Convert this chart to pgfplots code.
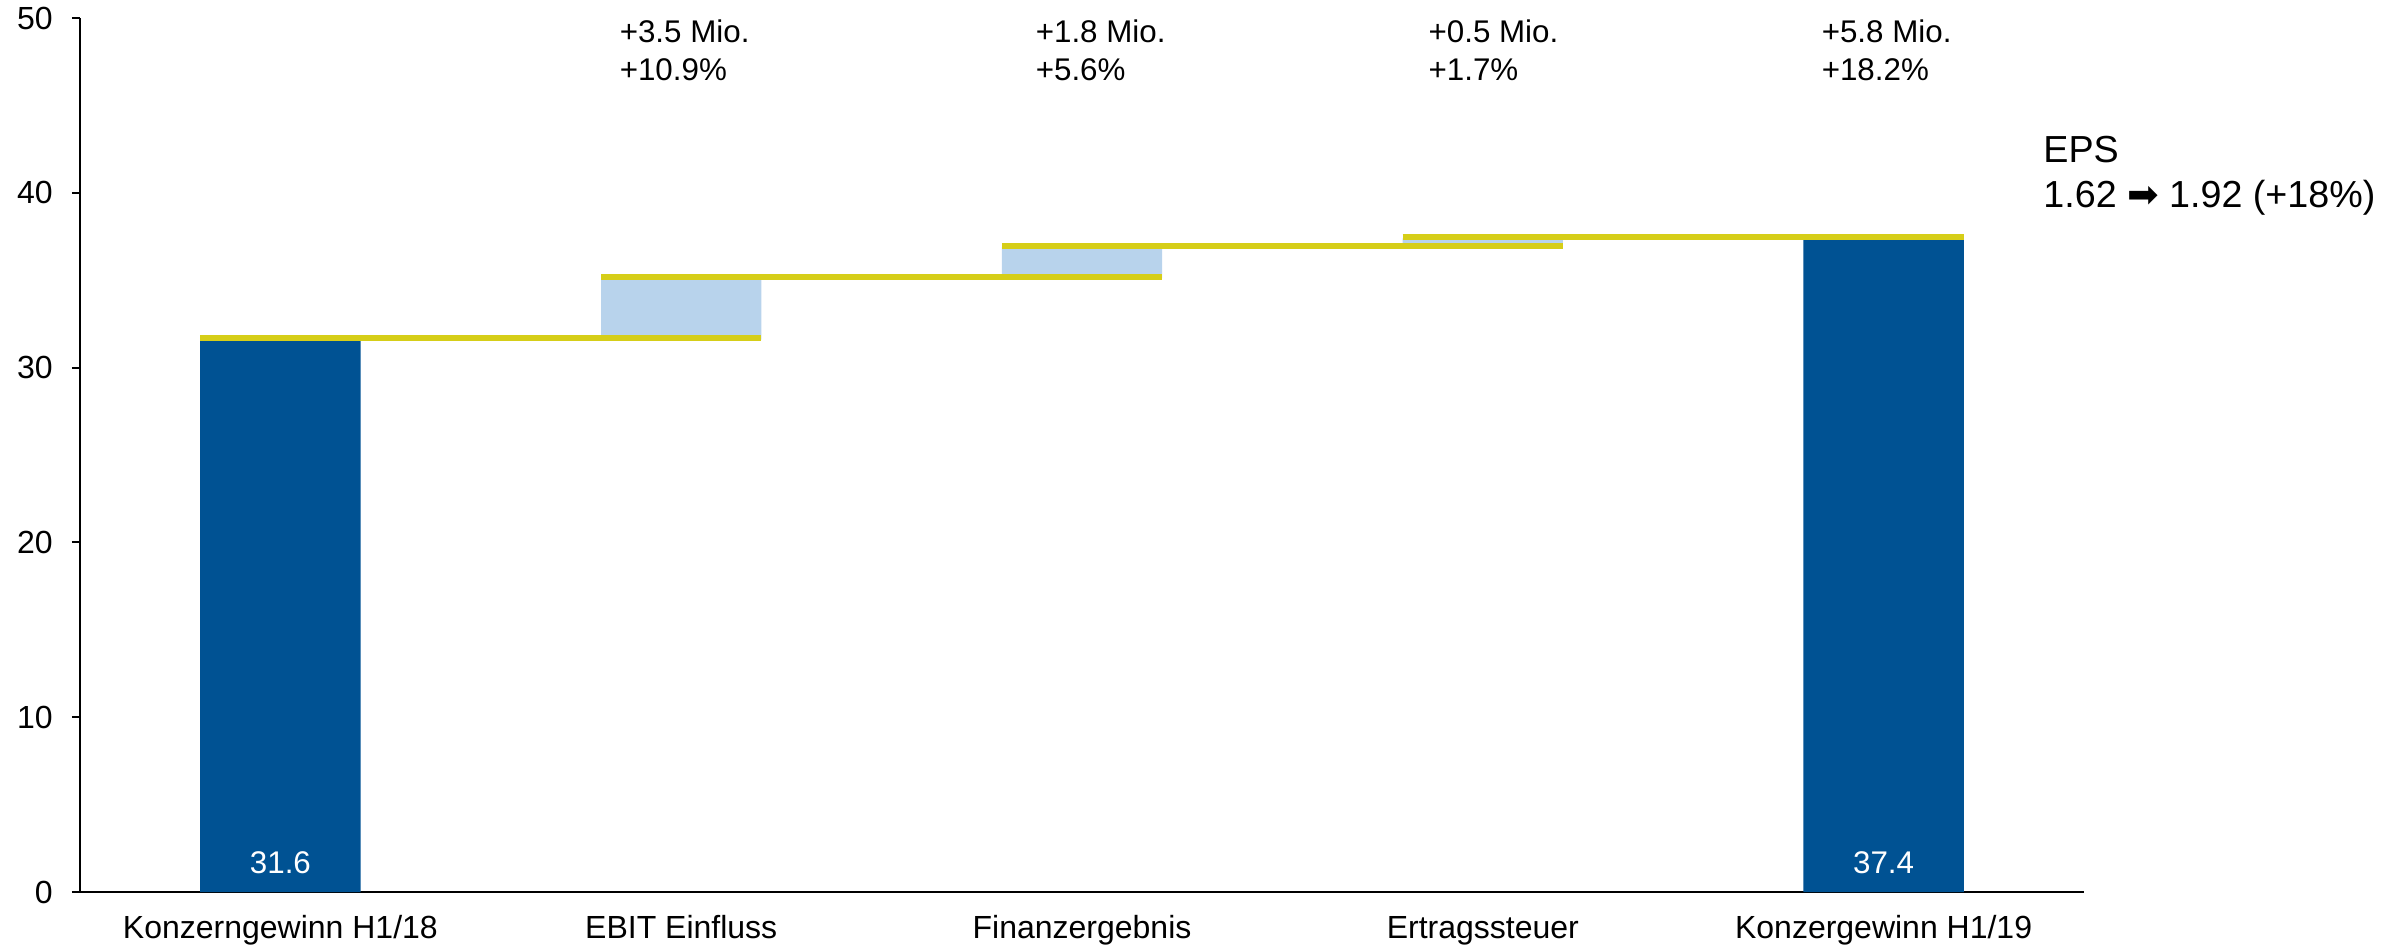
\documentclass[border=0pt]{standalone}
\usepackage{pgfplots}
\pgfplotsset{compat=1.18}
\usepackage{fontspec}
\setmainfont{Liberation Sans}
\newfontfamily\symfont{DejaVu Sans}
\definecolor{darkblue}{RGB}{0,82,147}
\definecolor{lightblue}{RGB}{184,211,236}
\definecolor{ylw}{RGB}{214,206,24}
\begin{document}
\begin{tikzpicture}
\pgfplotsset{
  common/.style={
    at={(0,0)}, anchor=south west,
    scale only axis, width=601.2pt, height=262.2pt,
    xmin=-0.5, xmax=4.5, ymin=0, ymax=50,
    clip=false,
  }
}
\begin{axis}[
  common,
  axis lines=left,
  axis line style={-, line width=0.6pt, black},
  ytick={0,10,20,30,40,50},
  xtick={0,1,2,3,4},
  xticklabels={Konzerngewinn H1/18, EBIT Einfluss, Finanzergebnis, Ertragssteuer, Konzergewinn H1/19},
  tick align=outside,
  major tick length=2.4pt,
  xtick style={draw=none},
  ytick style={line width=0.6pt, black},
  tick label style={font=\fontsize{9.6}{11}\selectfont},
  /pgf/number format/assume math mode=true,
  yticklabel style={inner sep=0pt, anchor=east, xshift=-5.6pt},
  xticklabel style={inner sep=0pt, anchor=base, yshift=-11.6pt},
  ybar stacked, bar width=0.4,
]
\addplot[fill=none, draw=none] coordinates {(0,0) (1,31.6) (2,35.1) (3,36.9) (4,0)};
\addplot[fill=lightblue, draw=none] coordinates {(0,0) (1,3.5) (2,1.8) (3,0.5) (4,0)};
\addplot[fill=darkblue, draw=none] coordinates {(0,31.6) (1,0) (2,0) (3,0) (4,37.4)};
\end{axis}
\begin{axis}[common, hide axis]
\addplot[ylw, line width=1.8pt, yshift=0.4pt] coordinates {(-0.2,31.6) (1.2,31.6)};
\addplot[ylw, line width=1.8pt, yshift=0.4pt] coordinates {(0.8,35.1) (2.2,35.1)};
\addplot[ylw, line width=1.8pt, yshift=0.4pt] coordinates {(1.8,36.9) (3.2,36.9)};
\addplot[ylw, line width=1.8pt, yshift=0.4pt] coordinates {(2.8,37.4) (4.2,37.4)};
\begin{scope}[every node/.style={inner sep=0pt, font=\fontsize{9.4}{11}\selectfont}]
\node[anchor=base west] at (axis cs:0.845,48.61) {+3.5 Mio.};
\node[anchor=base west] at (axis cs:0.845,46.45) {+10.9\%};
\node[anchor=base west] at (axis cs:1.883,48.61) {+1.8 Mio.};
\node[anchor=base west] at (axis cs:1.883,46.45) {+5.6\%};
\node[anchor=base west] at (axis cs:2.863,48.61) {+0.5 Mio.};
\node[anchor=base west] at (axis cs:2.863,46.45) {+1.7\%};
\node[anchor=base west] at (axis cs:3.844,48.61) {+5.8 Mio.};
\node[anchor=base west] at (axis cs:3.844,46.45) {+18.2\%};
\node[anchor=base, text=white] at (axis cs:0,1.05) {31.6};
\node[anchor=base, text=white] at (axis cs:4,1.05) {37.4};
\end{scope}
\begin{scope}[every node/.style={inner sep=0pt, font=\fontsize{11.3}{13}\selectfont}]
\node[anchor=base west] at (axis cs:4.397,41.72) {EPS};
\node[anchor=base west] at (axis cs:4.397,39.17) {1.62 {\symfont ➡} 1.92 (+18\%)};
\end{scope}
\end{axis}
\pgfresetboundingbox
\path[use as bounding box] (-24pt,-16.8pt) rectangle (692.1pt,267.6pt);
\end{tikzpicture}
\end{document}
